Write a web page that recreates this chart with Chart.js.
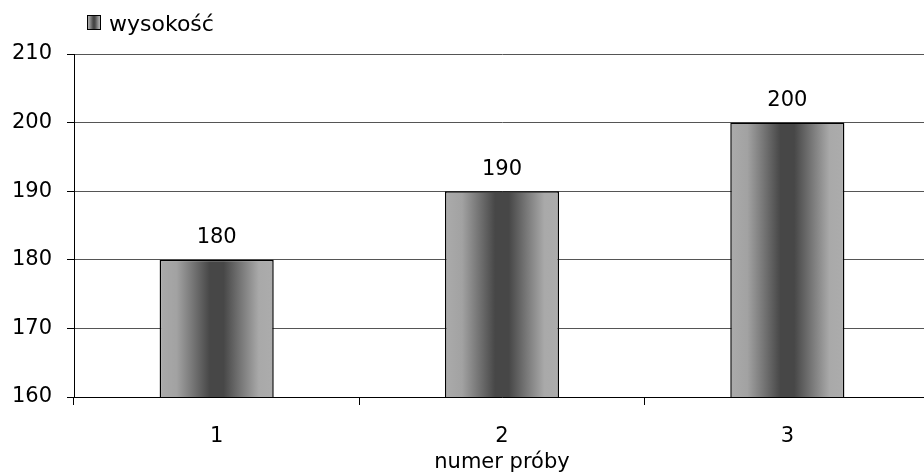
<!DOCTYPE html>
<html>
<head>
<meta charset="utf-8">
<script src="https://cdn.jsdelivr.net/npm/chart.js@4"></script>
<style>
  html, body { margin: 0; padding: 0; background: #fff; overflow: hidden; }
  #wrap { width: 940px; height: 477px; }
</style>
</head>
<body>
<div id="wrap"><canvas id="chart"></canvas></div>
<script>
const categories = ['1', '2', '3'];
const heights = [180, 190, 200];
const seriesName = 'wysokość';
const axisTitle = 'numer próby';
const yMin = 160;
const yMax = 210;
const yStep = 10;

const FONT = '"DejaVu Sans", sans-serif';
const BAR_FRACTION = 0.4;

// Excel-style horizontal shading: light edges, dark middle
function barGradient(ctx, left, right) {
  const g = ctx.createLinearGradient(left, 0, right, 0);
  g.addColorStop(0, '#ababab');
  g.addColorStop(0.15, '#a2a2a2');
  g.addColorStop(0.44, '#474747');
  g.addColorStop(0.56, '#474747');
  g.addColorStop(0.87, '#a9a9a9');
  g.addColorStop(1, '#acacac');
  return g;
}

const valueLabels = {
  id: 'valueLabels',
  afterDatasetsDraw(chart) {
    const { ctx } = chart;
    const meta = chart.getDatasetMeta(0);
    ctx.save();
    ctx.font = '21px ' + FONT;
    ctx.fillStyle = '#000';
    ctx.textAlign = 'center';
    ctx.textBaseline = 'middle';
    meta.data.forEach((bar, i) => {
      ctx.fillText(String(heights[i]), bar.x, bar.y - 22);
    });
    ctx.restore();
  },
};

const legendBox = {
  id: 'legendBox',
  afterDraw(chart) {
    const { ctx } = chart;
    ctx.save();
    ctx.fillStyle = barGradient(ctx, 87, 101);
    ctx.fillRect(87, 15, 14, 15);
    ctx.strokeStyle = '#000';
    ctx.lineWidth = 1;
    ctx.strokeRect(87.5, 15.5, 13, 14);
    ctx.font = '22px ' + FONT;
    ctx.fillStyle = '#000';
    ctx.textAlign = 'left';
    ctx.textBaseline = 'alphabetic';
    ctx.fillText(seriesName, 109, 31);
    ctx.restore();
  },
};

new Chart(document.getElementById('chart'), {
  type: 'bar',
  data: {
    labels: categories,
    datasets: [{
      label: seriesName,
      data: heights,
      backgroundColor: (c) => {
        const chart = c.chart;
        if (!chart.chartArea) return '#777';
        const x = chart.scales.x;
        const center = x.getPixelForValue(c.dataIndex);
        const half = (x.width / categories.length) * BAR_FRACTION / 2;
        return barGradient(chart.ctx, center - half, center + half);
      },
      borderColor: '#000',
      borderWidth: 1.5,
      borderSkipped: false,
      barPercentage: BAR_FRACTION,
      categoryPercentage: 1,
    }],
  },
  options: {
    responsive: true,
    maintainAspectRatio: false,
    animation: false,
    layout: { padding: { top: 54, right: 10, left: 0, bottom: 0 } },
    plugins: {
      legend: { display: false },
      tooltip: { enabled: false },
    },
    scales: {
      x: {
        offset: true,
        grid: { display: true, offset: true, drawOnChartArea: false, tickLength: 8, color: '#000' },
        border: { color: '#000', width: 1 },
        ticks: { color: '#000', font: { family: FONT, size: 21 }, padding: 19 },
        title: { display: true, text: axisTitle, color: '#000', font: { family: FONT, size: 21 }, padding: { top: 0, bottom: 2 } },
        afterFit(scale) { scale.height = 80; },
      },
      y: {
        min: yMin,
        max: yMax,
        ticks: { stepSize: yStep, color: '#000', font: { family: FONT, size: 21 }, padding: 15 },
        grid: { color: '#555', tickColor: '#000', tickLength: 7 },
        border: { color: '#000', width: 1 },
        afterFit(scale) { scale.width = 74; },
      },
    },
  },
  plugins: [valueLabels, legendBox],
});
</script>
</body>
</html>
